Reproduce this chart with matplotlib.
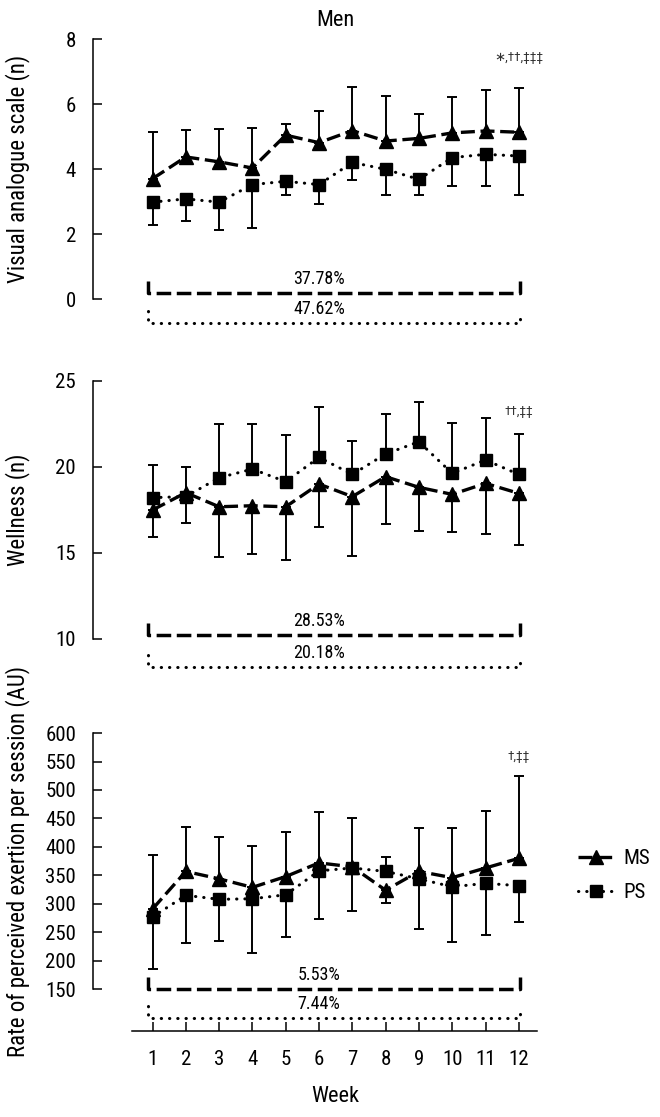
import numpy as np
import matplotlib.pyplot as plt

FONTS = ['Roboto Condensed', 'Archivo Narrow', 'PT Sans Narrow', 'Liberation Sans', 'DejaVu Sans']
plt.rcParams['font.family'] = FONTS

weeks = np.arange(1, 13)

# Visual analogue scale (mean, one-sided SD)
vas_ms = [3.71, 4.38, 4.23, 4.04, 5.05, 4.82, 5.19, 4.87, 4.95, 5.12, 5.18, 5.14]
vas_ms_sd = [1.43, 0.83, 1.01, 1.24, 0.33, 0.98, 1.35, 1.39, 0.74, 1.09, 1.27, 1.36]
vas_ps = [2.99, 3.09, 2.99, 3.53, 3.63, 3.53, 4.21, 4.00, 3.69, 4.36, 4.46, 4.41]
vas_ps_sd = [0.70, 0.67, 0.86, 1.35, 0.41, 0.59, 0.55, 0.80, 0.49, 0.88, 0.98, 1.19]

# Wellness
wel_ms = [17.48, 18.49, 17.67, 17.73, 17.67, 18.99, 18.26, 19.42, 18.80, 18.39, 19.03, 18.45]
wel_ms_sd = [1.55, 1.51, 2.94, 2.81, 3.10, 2.52, 3.43, 2.77, 2.52, 2.21, 2.96, 2.98]
wel_ps = [18.20, 18.26, 19.36, 19.86, 19.13, 20.54, 19.55, 20.74, 21.45, 19.61, 20.39, 19.55]
wel_ps_sd = [1.90, 1.55, 3.10, 2.60, 2.69, 2.95, 1.96, 2.32, 2.33, 2.95, 2.42, 2.35]

# Session RPE
rpe_ms = [291, 357, 344, 329, 348, 372, 365, 324, 357, 346, 363, 380]
rpe_ms_sd = [94, 78, 73, 72, 78, 89, 86, 23, 76, 88, 100, 144]
rpe_ps = [277, 315, 308, 309, 316, 358, 363, 357, 344, 330, 336, 332]
rpe_ps_sd = [92, 83, 73, 95, 74, 85, 76, 26, 88, 97, 90, 64]

panels = [
    dict(ms=vas_ms, ms_sd=vas_ms_sd, ps=vas_ps, ps_sd=vas_ps_sd,
         ylabel='Visual analogue scale (n)', yticks=[0, 2, 4, 6, 8],
         pct=('37.78%', '47.62%'), brk=(0.2, -0.74), note='∗,††,‡‡‡', note_y=7.43),
    dict(ms=wel_ms, ms_sd=wel_ms_sd, ps=wel_ps, ps_sd=wel_ps_sd,
         ylabel='Wellness (n)', yticks=[10, 15, 20, 25],
         pct=('28.53%', '20.18%'), brk=(10.21, 8.37), note='††,‡‡', note_y=23.2),
    dict(ms=rpe_ms, ms_sd=rpe_ms_sd, ps=rpe_ps, ps_sd=rpe_ps_sd,
         ylabel='Rate of perceived exertion per session (AU)',
         yticks=list(range(150, 601, 50)),
         pct=('5.53%', '7.44%'), brk=(150, 99), note='†,‡‡', note_y=558),
]

W, H = 660, 1117
left_px, right_px = 92.7, 568.75
# (top px, bottom px, ylim)
layout = [(29.55, 335.05, (-1.1, 8.3)),
          (372.1, 676.5, (7.8, 25.5)),
          (724.5, 1030.7, (77.3, 615))]

fig = plt.figure(figsize=(W / 100, H / 100), dpi=100)

ms_dash = (0, (4.2, 1.7))
ps_dot = (0, (0.1, 2.6))

for p, (top, bot, ylim) in zip(panels, layout):
    ax = fig.add_axes([left_px / W, 1 - bot / H, (right_px - left_px) / W, (bot - top) / H])
    ax.set_xlim(-0.796, 13.5)
    ax.set_ylim(*ylim)
    ppu = (bot - top) / (ylim[1] - ylim[0])  # pixels per data unit

    ms = np.array(p['ms'])
    ps = np.array(p['ps'])
    ms_sd = np.array(p['ms_sd'])
    ps_sd = np.array(p['ps_sd'])
    up = ms >= ps  # the higher series gets the upper error bar
    ms_err = [np.where(up, 0, ms_sd), np.where(up, ms_sd, 0)]
    ps_err = [np.where(up, ps_sd, 0), np.where(up, 0, ps_sd)]

    for y, err in ((ms, ms_err), (ps, ps_err)):
        ax.errorbar(weeks, y, yerr=err, fmt='none', ecolor='black', elinewidth=1.4,
                    capsize=3.6, capthick=1.4, zorder=2)
    ax.plot(weeks, ms, color='black', lw=2.4, linestyle=ms_dash, marker='^', ms=9.5,
            zorder=3, label='MS')
    ax.plot(weeks, ps, color='black', lw=2.2, linestyle=ps_dot, dash_capstyle='round',
            marker='s', ms=9, zorder=3, label='PS')

    # change brackets
    x0, x1 = 0.85, 12.05
    tick = 12 / ppu
    lab = 14 / ppu
    y_d, y_p = p['brk']
    ax.plot([x0, x0, x1, x1], [y_d + tick, y_d, y_d, y_d + tick], color='black', lw=2.5,
            linestyle=(0, (4.2, 1.6)), clip_on=False)
    ax.plot([x0, x0, x1, x1], [y_p + tick, y_p, y_p, y_p + tick], color='black', lw=2.2,
            linestyle=ps_dot, dash_capstyle='round', clip_on=False)
    ax.text(6, y_d + lab, p['pct'][0], ha='center', va='center', fontsize=13)
    ax.text(6, y_p + lab, p['pct'][1], ha='center', va='center', fontsize=13)
    ax.text(12, p['note_y'], p['note'], ha='center', va='center', fontsize=9.5,
            color='#333333', family=FONTS)

    yt = p['yticks']
    ax.set_yticks(yt)
    ax.spines['left'].set_bounds(yt[0], yt[-1])
    ax.spines['left'].set_linewidth(1.1)
    for s in ('top', 'right'):
        ax.spines[s].set_visible(False)
    ax.tick_params(axis='y', direction='in', length=6.5, width=1.1, labelsize=15, pad=12)
    ax.set_ylabel(p['ylabel'], fontsize=16.5)
    ax.yaxis.set_label_coords((30 - left_px) / (right_px - left_px),
                              ((yt[0] + yt[-1]) / 2 - ylim[0]) / (ylim[1] - ylim[0]))
    last = ax

for ax in fig.axes[:2]:
    ax.spines['bottom'].set_visible(False)
    ax.set_xticks([])

last.spines['bottom'].set_bounds(0.37, 12.55)
last.spines['bottom'].set_linewidth(1.1)
last.set_xticks(weeks)
last.tick_params(axis='x', direction='in', length=6.5, width=1.1, labelsize=15, pad=14)

fig.text(335 / W, 1 - 20.7 / H, 'Men', ha='center', va='center', fontsize=16)
fig.text(335 / W, 1 - 1096.7 / H, 'Week', ha='center', va='center', fontsize=16)

handles, labels = last.get_legend_handles_labels()
fig.legend(handles, labels, loc='center left', bbox_to_anchor=(578 / W, 1 - 875.5 / H),
           frameon=False, handlelength=1.7, handletextpad=0.5, labelspacing=0.7,
           borderpad=0, borderaxespad=0, fontsize=15)

fig.savefig('out.png', dpi=100)
